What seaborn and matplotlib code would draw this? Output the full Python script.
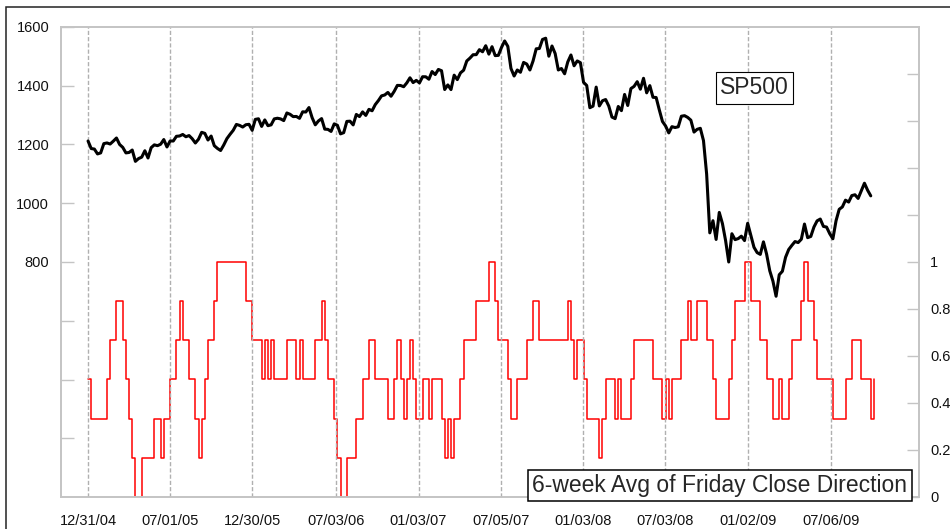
import numpy as np
import pandas as pd
import matplotlib
matplotlib.use("Agg")
import matplotlib.pyplot as plt
import seaborn as sns
from matplotlib.patches import Rectangle

# ─── DATA ─────────────────────────────────────────────────────
# SP500 weekly (Friday) closes, 12/31/04 .. 10/02/09
sp500_2005 = [1211.9, 1186.2, 1184.5, 1167.9, 1171.4, 1203.0, 1205.3, 1201.6, 1211.4,
              1222.1, 1200.1, 1190.2, 1171.4, 1172.9, 1181.2, 1142.6, 1152.1, 1156.9,
              1178.8, 1154.1, 1189.3, 1198.8, 1196.0, 1200.9, 1216.9, 1191.6, 1211.9,
              1211.9, 1227.9, 1229.0, 1234.2, 1226.4, 1230.4, 1219.7, 1205.1, 1218.0,
              1241.5, 1237.9, 1215.3, 1228.8, 1195.9, 1186.6, 1179.6, 1198.4, 1220.1,
              1234.7, 1248.3, 1268.3, 1265.1, 1259.4, 1267.3, 1268.7, 1248.3]
sp500_2006 = [1285.5, 1287.6, 1261.5, 1283.7, 1264.0, 1266.9, 1287.2, 1289.4, 1287.2,
              1281.4, 1307.3, 1302.9, 1294.9, 1295.5, 1289.1, 1311.3, 1310.6, 1325.8,
              1291.2, 1267.0, 1280.2, 1288.2, 1252.3, 1251.5, 1244.5, 1270.2, 1265.5,
              1236.2, 1240.3, 1278.6, 1279.4, 1266.7, 1302.3, 1295.1, 1311.0, 1299.0,
              1319.7, 1314.8, 1335.8, 1349.6, 1365.6, 1368.6, 1377.3, 1364.3, 1380.9,
              1401.2, 1400.9, 1396.7, 1409.8, 1427.1, 1410.8, 1418.3]
sp500_2007 = [1409.7, 1430.7, 1430.5, 1422.2, 1448.4, 1438.1, 1455.5, 1451.2, 1387.2,
              1402.8, 1386.9, 1436.1, 1420.9, 1443.8, 1452.9, 1484.4, 1494.1, 1505.6,
              1505.9, 1522.8, 1515.7, 1536.3, 1507.7, 1532.9, 1502.6, 1503.4, 1530.4,
              1552.5, 1534.1, 1458.9, 1433.1, 1453.6, 1445.9, 1479.4, 1473.9, 1453.6,
              1484.3, 1525.8, 1526.8, 1557.6, 1561.8, 1500.6, 1535.3, 1509.7, 1453.7,
              1458.7, 1440.7, 1481.1, 1504.7, 1467.9, 1484.5, 1478.5]
sp500_2008 = [1411.6, 1401.0, 1325.2, 1330.6, 1395.4, 1331.3, 1349.0, 1353.1, 1330.6,
              1293.4, 1288.1, 1329.5, 1315.2, 1370.4, 1332.8, 1390.3, 1397.8, 1413.9,
              1388.3, 1425.4, 1375.9, 1400.4, 1360.7, 1360.0, 1317.9, 1278.4, 1262.9,
              1239.5, 1260.7, 1257.8, 1260.3, 1296.3, 1298.2, 1292.2, 1282.8, 1242.3,
              1251.7, 1255.1, 1213.3, 1099.2, 899.2, 940.6, 876.8, 968.8, 931.0,
              873.3, 800.0, 896.2, 876.1, 879.7, 887.9, 872.8]
sp500_2009 = [931.8, 890.4, 850.1, 832.0, 825.9, 868.6, 826.8, 770.1, 735.1, 683.4,
              756.6, 768.5, 815.9, 842.5, 856.6, 869.6, 866.2, 877.5, 929.2, 882.9,
              887.0, 919.1, 940.1, 946.2, 921.2, 918.9, 896.4, 879.1, 940.4, 979.3,
              987.5, 1010.5, 1004.1, 1026.1, 1028.9, 1016.4, 1042.7, 1068.3, 1044.4,
              1025.2]
sp500 = sp500_2005 + sp500_2006 + sp500_2007 + sp500_2008 + sp500_2009

friday_dir_sixths = [
    3, 2, 2, 2, 2, 2, 3, 4, 4, 5, 5, 4, 3, 2, 1, 0, 0, 1, 1, 1,
    1, 2, 2, 1, 2, 2, 3, 3, 4, 5, 4, 4, 3, 3, 2, 1, 2, 3, 4, 4,
    5, 6, 6, 6, 6, 6, 6, 6, 6, 6, 5, 5, 4, 4, 4, 3, 4, 3, 4, 3,
    3, 3, 3, 4, 4, 4, 3, 4, 3, 3, 3, 3, 4, 4, 5, 4, 3, 3, 2, 1,
    0, 0, 1, 1, 1, 2, 2, 3, 3, 4, 4, 3, 3, 3, 3, 2, 2, 3, 4, 3,
    2, 3, 4, 3, 2, 2, 3, 3, 2, 3, 3, 3, 2, 1, 2, 1, 2, 2, 3, 4,
    4, 4, 4, 5, 5, 5, 5, 6, 6, 5, 4, 4, 4, 3, 2, 2, 3, 3, 3, 4,
    4, 5, 5, 4, 4, 4, 4, 4, 4, 4, 4, 4, 5, 4, 3, 4, 4, 3, 2, 2,
    2, 2, 1, 2, 3, 3, 3, 2, 3, 2, 2, 2, 3, 4, 4, 4, 4, 4, 4, 3,
    3, 3, 2, 3, 2, 3, 3, 3, 4, 4, 5, 4, 4, 5, 5, 5, 4, 4, 3, 2,
    2, 2, 2, 3, 4, 5, 5, 5, 6, 6, 5, 5, 5, 4, 4, 3, 3, 2, 2, 3,
    2, 2, 3, 4, 4, 4, 5, 6, 5, 5, 4, 3, 3, 3, 3, 3, 2, 2, 2, 2,
    3, 3, 4, 4, 4, 3, 3, 3, 2, 3,
]

tick_dates = ["2004-12-31", "2005-07-01", "2005-12-30", "2006-07-03", "2007-01-03",
              "2007-07-05", "2008-01-03", "2008-07-03", "2009-01-02", "2009-07-06"]
tick_labels = ["12/31/04", "07/01/05", "12/30/05", "07/03/06", "01/03/07",
               "07/05/07", "01/03/08", "07/03/08", "01/02/09", "07/06/09"]

left_ticks = [200, 400, 600, 800, 1000, 1200, 1400, 1600]
left_labels = ["", "", "", "800", "1000", "1200", "1400", "1600"]
right_ticks = [0, 0.2, 0.4, 0.6, 0.8, 1.0, 1.2, 1.4, 1.6, 1.8]
right_labels = ["0", "0.2", "0.4", "0.6", "0.8", "1", "", "", "", ""]

# ─── FRAMES ───────────────────────────────────────────────────
df_sp = pd.DataFrame({
    "date": pd.date_range("2004-12-31", periods=len(sp500), freq="W-FRI"),
    "close": sp500,
})
df_dir = pd.DataFrame({
    "date": pd.date_range("2004-12-31", periods=len(friday_dir_sixths), freq="W-FRI"),
    "avg": np.array(friday_dir_sixths) / 6.0,
})

# ─── PLOT ─────────────────────────────────────────────────────
sns.set_style("white")
plt.rcParams["font.family"] = ["Liberation Sans", "DejaVu Sans"]

W, H = 950, 529
fig = plt.figure(figsize=(W / 100, H / 100), dpi=100)
ax = fig.add_axes([61 / W, 1 - 497 / H, (919 - 61) / W, (497 - 27) / H])
ax2 = ax.twinx()

sns.lineplot(data=df_dir, x="date", y="avg", ax=ax2, color="#ff0000",
             linewidth=1.1, drawstyle="steps-post")
sns.lineplot(data=df_sp, x="date", y="close", ax=ax, color="black", linewidth=2.2)

# black line above red line
ax.set_zorder(ax2.get_zorder() + 1)
ax.patch.set_visible(False)

ax.set_xlim(pd.Timestamp("2004-11-01"), pd.Timestamp("2010-01-17"))
ax.set_ylim(0, 1600)
ax2.set_ylim(0, 2)

ax.set_xticks(pd.to_datetime(tick_dates))
ax.set_xticklabels(tick_labels)
ax.set_yticks(left_ticks)
ax.set_yticklabels(left_labels)
ax2.set_yticks(right_ticks)
ax2.set_yticklabels(right_labels)

for a in (ax, ax2):
    a.set_xlabel("")
    a.set_ylabel("")
    for s in a.spines.values():
        s.set_color("#c4c4c4")
        s.set_linewidth(1.2)

ax.tick_params(axis="x", length=0, pad=12, labelsize=10.5, labelcolor="#111111")
ax.tick_params(axis="y", direction="in", length=9.5, width=1, color="#c4c4c4",
               pad=8.5, labelsize=10.5, labelcolor="#111111")
ax2.tick_params(axis="y", direction="in", length=9, width=1, color="#c4c4c4",
                pad=8, labelsize=10.5, labelcolor="#111111")

ax.grid(axis="x", color="#b0b0b0", linestyle=(0, (3, 1.5)), linewidth=1.0)
ax.grid(axis="y", visible=False)
ax2.grid(False)

# labels in boxes
fig.text(754.5 / W, 1 - 88 / H, "SP500", fontsize=16.5, ha="center", va="center",
         bbox=dict(boxstyle="square,pad=0.2", fc="white", ec="black", lw=0.8),
         zorder=10)
fig.text(720 / W, 1 - 485.5 / H, "6-week Avg of Friday Close Direction", fontsize=16.5,
         ha="center", va="center",
         bbox=dict(boxstyle="square,pad=0.18", fc="white", ec="black", lw=1.1),
         zorder=10)

# outer frame of the picture
fig.patches.append(Rectangle((6 / W, -0.5), 2, 0.5 + 1 - 7 / H, transform=fig.transFigure,
                             fill=False, ec="#222222", lw=1.1))

plt.savefig("out.png", dpi=100)
